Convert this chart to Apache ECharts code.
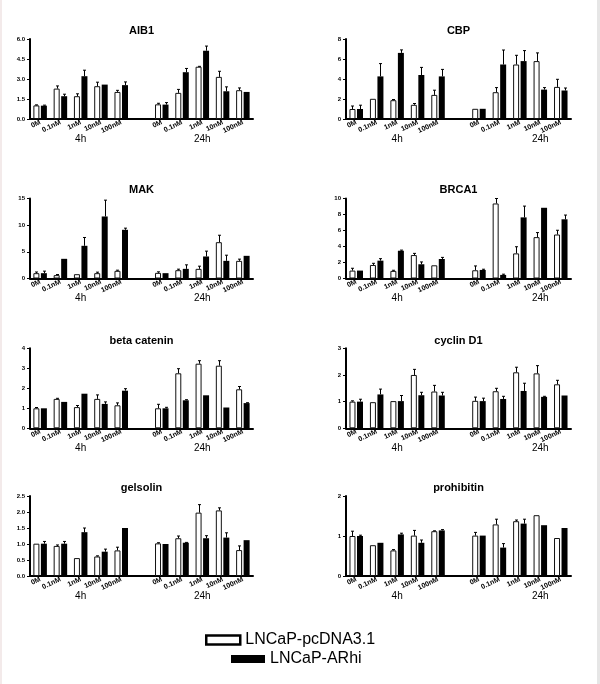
<!DOCTYPE html>
<html>
<head>
<meta charset="utf-8">
<script src="https://cdn.jsdelivr.net/npm/echarts@6/dist/echarts.min.js"></script>
<style>
html,body{margin:0;padding:0;background:#fff;}
#chart{width:600px;height:684px;}
</style>
</head>
<body>
<div id="chart"></div>
<script>
// ---------- data ----------
const doseLabels = ['0M', '0.1nM', '1nM', '10nM', '100nM'];
const timeLabels = ['4h', '24h'];
const seriesNames = ['LNCaP-pcDNA3.1', 'LNCaP-ARhi'];
const panelTitles = ['AIB1', 'CBP', 'MAK', 'BRCA1', 'beta catenin', 'cyclin D1', 'gelsolin', 'prohibitin'];
const yMaxes = [6, 8, 15, 10, 4, 3, 2.5, 2];
const ySteps = [1.5, 2, 5, 2, 1, 1, 0.5, 1];
const yDecimals = [1, 0, 0, 0, 0, 0, 1, 0];

// values: 4h (0M,0.1nM,1nM,10nM,100nM), then 24h (same)
const aib1Pc     = [1.02, 2.28, 1.71, 2.46, 2.03, 1.10, 1.96, 3.92, 3.16, 2.16];
const aib1PcErr  = [0.04, 0.20, 0.18, 0.30, 0.12, 0.08, 0.26, 0.03, 0.42, 0.17];
const aib1Ar     = [1.00, 1.71, 3.21, 2.58, 2.54, 1.08, 3.51, 5.12, 2.08, 2.03];
const aib1ArErr  = [0.04, 0.15, 0.45, 0, 0.24, 0.15, 0.28, 0.35, 0.33, 0];

const cbpPc      = [1.00, 2.02, 1.88, 1.42, 2.41, 1.02, 2.68, 5.45, 5.79, 3.21];
const cbpPcErr   = [0.30, 0, 0.07, 0.13, 0.47, 0, 0.46, 0.92, 0.82, 0.76];
const cbpAr      = [1.00, 4.26, 6.61, 4.40, 4.26, 1.02, 5.45, 5.79, 2.94, 2.85];
const cbpArErr   = [0.38, 1.28, 0.30, 0.76, 0.70, 0, 1.45, 1.05, 0.20, 0.25];

const makPc      = [1.00, 0.63, 0.81, 1.00, 1.44, 1.06, 1.56, 1.81, 6.81, 3.31];
const makPcErr   = [0.22, 0.12, 0, 0.19, 0.12, 0.19, 0.19, 0.50, 1.30, 0.32];
const makAr      = [1.00, 3.69, 6.13, 11.63, 9.13, 1.00, 1.81, 4.13, 3.31, 4.25];
const makArErr   = [0.38, 0, 1.56, 3.06, 0.31, 0, 0.75, 1.00, 1.06, 0];

const brca1Pc    = [0.99, 1.69, 0.95, 2.93, 1.65, 1.03, 9.38, 3.14, 5.17, 5.50];
const brca1PcErr = [0.29, 0.21, 0.08, 0.21, 0, 0.54, 0.62, 0.83, 0.57, 0.53];
const brca1Ar    = [0.99, 2.23, 3.47, 1.78, 2.44, 1.07, 0.45, 7.64, 8.84, 7.40];
const brca1ArErr = [0, 0.25, 0.08, 0.29, 0.20, 0.09, 0.09, 1.41, 0, 0.53];

const bcatPc     = [1.00, 1.47, 1.06, 1.47, 1.15, 1.00, 2.75, 3.23, 3.13, 1.95];
const bcatPcErr  = [0.04, 0.03, 0.08, 0.20, 0.12, 0.20, 0.23, 0.15, 0.25, 0.14];
const bcatAr     = [1.00, 1.32, 1.73, 1.22, 1.88, 1.00, 1.40, 1.65, 1.04, 1.26];
const bcatArErr  = [0, 0, 0, 0.10, 0.10, 0.05, 0.03, 0, 0, 0.02];

const cycPc      = [1.00, 0.98, 1.02, 2.00, 1.38, 1.03, 1.39, 2.10, 2.06, 1.65];
const cycPcErr   = [0.03, 0, 0, 0.21, 0.23, 0.14, 0.11, 0.19, 0.29, 0.15];
const cycAr      = [1.00, 1.27, 1.02, 1.24, 1.23, 1.02, 1.10, 1.40, 1.18, 1.23];
const cycArErr   = [0.09, 0.20, 0.21, 0.11, 0.12, 0.11, 0.10, 0.29, 0.02, 0];

const gelPc      = [1.01, 0.94, 0.56, 0.61, 0.80, 1.02, 1.18, 1.98, 2.05, 0.81];
const gelPcErr   = [0, 0.03, 0, 0.02, 0.10, 0.02, 0.07, 0.25, 0.08, 0.13];
const gelAr      = [1.01, 1.01, 1.37, 0.76, 1.50, 1.00, 1.04, 1.18, 1.20, 1.12];
const gelArErr   = [0.07, 0.07, 0.13, 0.08, 0, 0, 0.01, 0.08, 0.15, 0];

const prohPc     = [1.00, 0.77, 0.64, 1.01, 1.12, 1.01, 1.29, 1.37, 1.52, 0.95];
const prohPcErr  = [0.12, 0, 0.02, 0.13, 0.01, 0.08, 0.13, 0.03, 0, 0];
const prohAr     = [1.00, 0.83, 1.04, 0.83, 1.14, 1.01, 0.71, 1.31, 1.27, 1.20];
const prohArErr  = [0.02, 0, 0.03, 0.07, 0.02, 0, 0.10, 0.11, 0, 0];

const panelData = [
  [aib1Pc, aib1PcErr, aib1Ar, aib1ArErr],
  [cbpPc, cbpPcErr, cbpAr, cbpArErr],
  [makPc, makPcErr, makAr, makArErr],
  [brca1Pc, brca1PcErr, brca1Ar, brca1ArErr],
  [bcatPc, bcatPcErr, bcatAr, bcatArErr],
  [cycPc, cycPcErr, cycAr, cycArErr],
  [gelPc, gelPcErr, gelAr, gelArErr],
  [prohPc, prohPcErr, prohAr, prohArErr]
];

// ---------- layout / style ----------
const FONT = "'Liberation Sans', Arial, Helvetica, sans-serif";
const colLeft = [30, 346];
const colWidth = [223, 225];
const rowTop = [39, 198.5, 348.3, 496];
const gridH = 80;
const titleOffset = [14, 14, 13, 14];
const BAR_W = 6;
const BAR_GAP = 0.25;
const nCat = doseLabels.length * 2 + 1;

const categories = [...doseLabels, '', ...doseLabels];
// position a value-array (10) onto the 11 categories (gap slot in the middle)
const toCat = (arr) => { const o = arr.slice(0, 5); o.push('-'); return o.concat(arr.slice(5)); };
const catIndex = (i) => (i < 5 ? i : i + 1);

const grids = [], xAxes = [], yAxes = [], series = [], titles = [];
const chart = echarts.init(document.getElementById('chart'), null, {renderer: 'canvas'});

panelTitles.forEach((name, p) => {
  const col = p % 2, row = Math.floor(p / 2);
  const left = colLeft[col], top = rowTop[row], width = colWidth[col];
  grids.push({left, top, width, height: gridH, containLabel: false});
  titles.push({
    text: name, left: left + width / 2, top: top - titleOffset[row], textAlign: 'center', padding: 0,
    textStyle: {fontSize: 11, fontWeight: 'bold', color: '#000', fontFamily: FONT}
  });
  const xMain = xAxes.length;
  xAxes.push({
    type: 'category', gridIndex: p, data: categories,
    axisLine: {lineStyle: {color: '#000', width: 2}},
    axisTick: {alignWithLabel: true, interval: 0, length: 3, lineStyle: {color: '#000', width: 1}},
    axisLabel: {interval: 0, rotate: 25, fontSize: 7, fontWeight: 'bold', color: '#000', margin: 3, fontFamily: FONT}
  });
  // time labels (4h / 24h) on a second category axis
  const timeCats = new Array(nCat).fill('');
  timeCats[2] = timeLabels[0];
  timeCats[col === 0 ? 8 : 9] = timeLabels[1];
  xAxes.push({
    type: 'category', gridIndex: p, data: timeCats, position: 'bottom', offset: 15,
    axisLine: {show: false}, axisTick: {show: false},
    axisLabel: {interval: 0, fontSize: 10, color: '#000', margin: 0, fontFamily: FONT}
  });
  yAxes.push({
    type: 'value', gridIndex: p, min: 0, max: yMaxes[p], interval: ySteps[p],
    axisLine: {show: true, lineStyle: {color: '#000', width: 2}},
    axisTick: {show: true, length: 3, lineStyle: {color: '#000', width: 1}},
    splitLine: {show: false},
    axisLabel: {fontSize: 6, fontWeight: 'bold', color: '#000', margin: 5, fontFamily: FONT,
      formatter: (v) => v.toFixed(yDecimals[p])}
  });
  const [pc, pcErr, ar, arErr] = panelData[p];
  series.push({
    name: seriesNames[0], type: 'bar', xAxisIndex: xMain, yAxisIndex: p,
    data: toCat(pc), barWidth: BAR_W, barGap: (BAR_GAP * 100) + '%',
    itemStyle: {color: '#fff', borderColor: '#111', borderWidth: 1}
  });
  series.push({
    name: seriesNames[1], type: 'bar', xAxisIndex: xMain, yAxisIndex: p,
    data: toCat(ar), barWidth: BAR_W, barGap: (BAR_GAP * 100) + '%',
    itemStyle: {color: '#000', borderColor: '#000', borderWidth: 0}
  });
  [[pc, pcErr, -1], [ar, arErr, 1]].forEach(([vals, errs, side]) => {
    series.push({
      type: 'custom', xAxisIndex: xMain, yAxisIndex: p, z: 5, silent: true,
      data: vals.map((v, i) => [catIndex(i), v, errs[i]]),
      encode: {x: 0, y: 1},
      renderItem: (params, api) => {
        const e = api.value(2);
        if (!e) return null;
        const v = api.value(1);
        const a = api.coord([api.value(0), v]);
        const b = api.coord([api.value(0), v + e]);
        const dx = side * (BAR_W + BAR_W * BAR_GAP) / 2;
        const x = Math.round(a[0] + dx) + 0.5;
        const st = {stroke: '#000', lineWidth: 1};
        return {type: 'group', children: [
          {type: 'line', shape: {x1: x, y1: a[1], x2: x, y2: b[1]}, style: st},
          {type: 'line', shape: {x1: x - 1.5, y1: b[1], x2: x + 1.5, y2: b[1]}, style: st}
        ]};
      }
    });
  });
});

const legendCommon = {
  orient: 'horizontal', padding: 0, itemWidth: 34, icon: 'rect',
  textStyle: {fontSize: 16, color: '#000', fontFamily: FONT}, selectedMode: false
};

chart.setOption({
  animation: false,
  backgroundColor: '#fff',
  title: titles,
  grid: grids,
  xAxis: xAxes,
  yAxis: yAxes,
  legend: [
    Object.assign({}, legendCommon, {left: 205, top: 632, itemHeight: 9,
      data: [{name: seriesNames[0], itemStyle: {color: '#fff', borderColor: '#000', borderWidth: 2.5}}]}),
    Object.assign({}, legendCommon, {left: 231, top: 651, itemHeight: 8,
      data: [{name: seriesNames[1]}]})
  ],
  graphic: [
    {type: 'rect', left: 597, top: 0, shape: {width: 3, height: 684}, style: {fill: '#e6e6e6'}, silent: true},
    {type: 'rect', left: 0, top: 0, shape: {width: 2, height: 684}, style: {fill: '#f3eaea'}, silent: true}
  ],
  series
});
</script>
</body>
</html>
